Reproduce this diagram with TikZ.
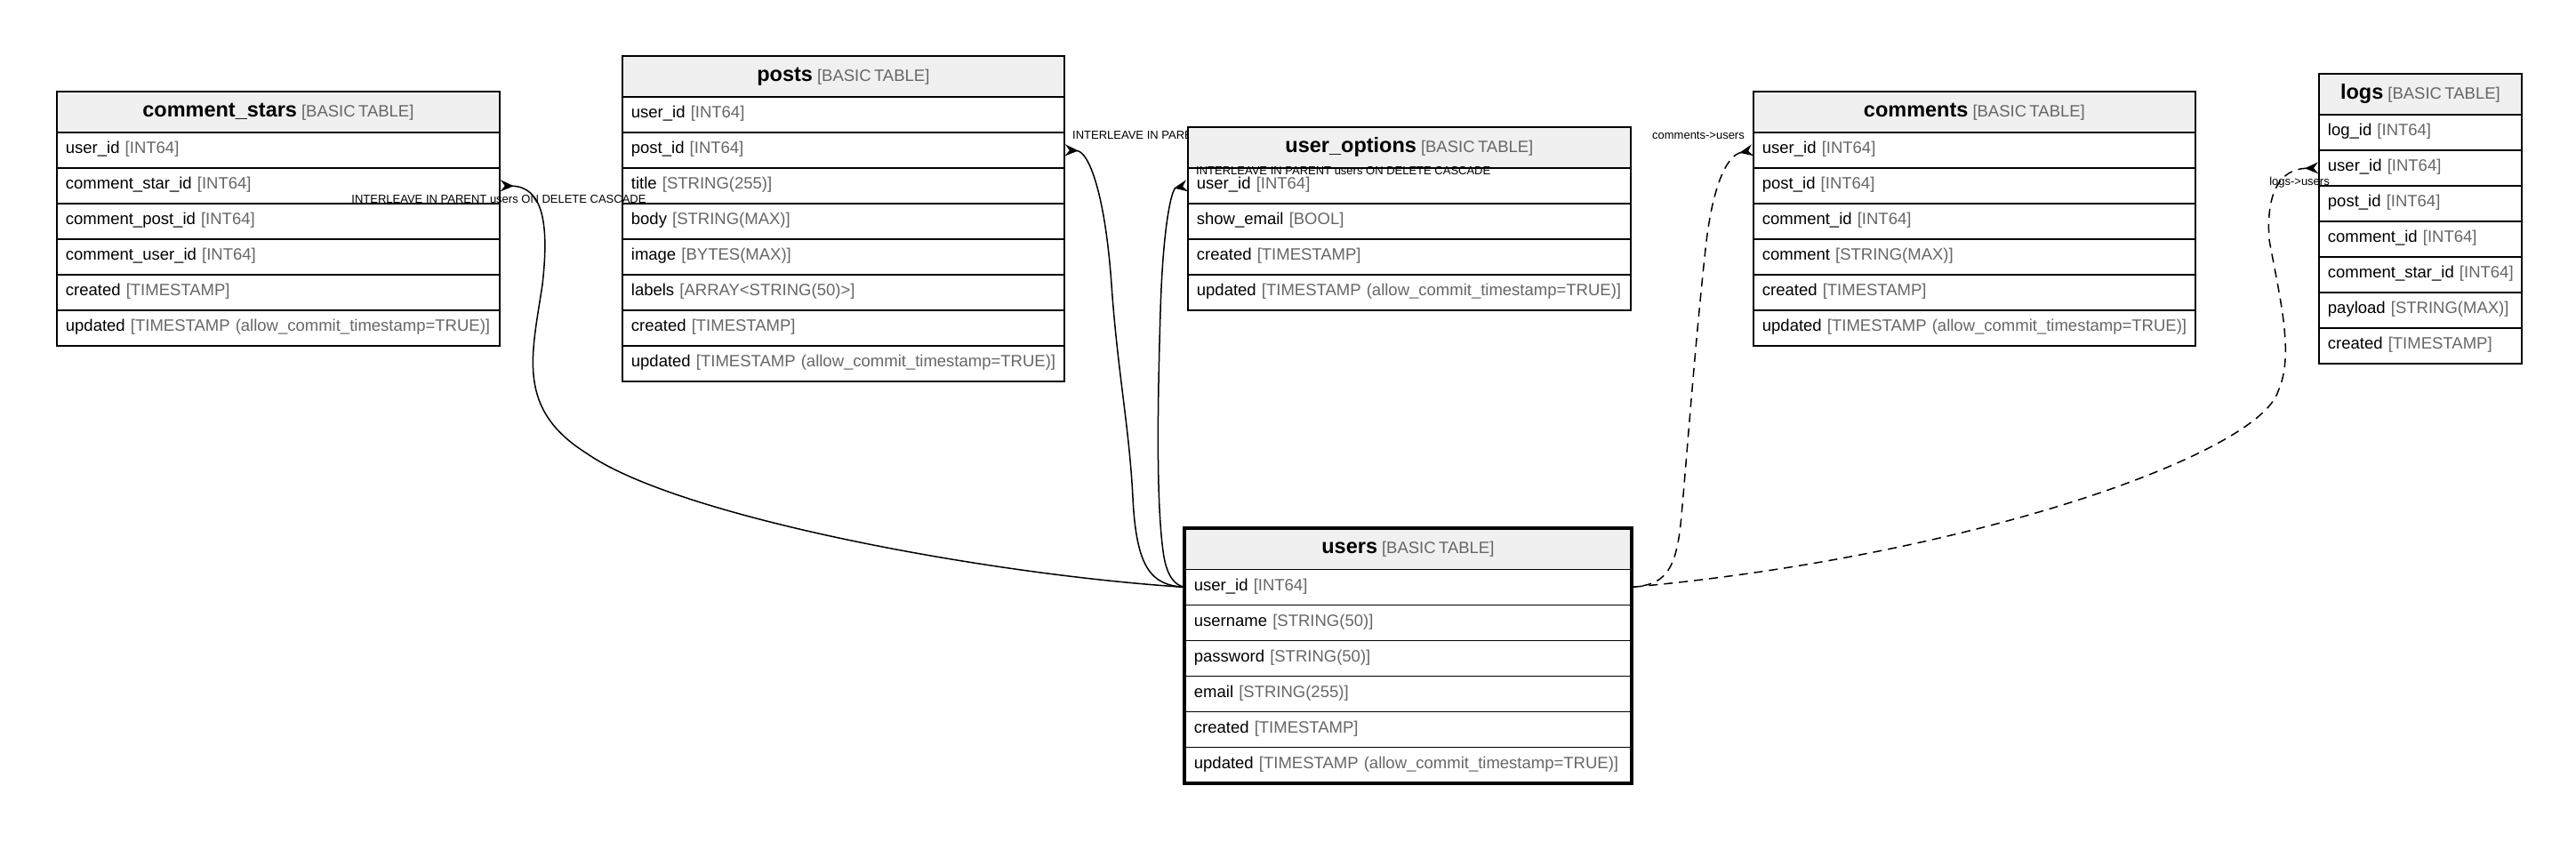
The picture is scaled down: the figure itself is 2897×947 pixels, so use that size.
\documentclass[tikz,border=0pt]{standalone}
\usepackage{fontspec}
\setmainfont{Liberation Sans}
\usetikzlibrary{arrows.meta}
\definecolor{tgray}{HTML}{666666}
\definecolor{hfill}{HTML}{F0F0F0}
\newcommand\rowfont{\fontsize{18.5pt}{22pt}\selectfont}
\newcommand\namefont{\fontsize{23.5pt}{26pt}\selectfont\bfseries}
\newcommand\lblfont{\fontsize{13pt}{15pt}\selectfont}
\tikzset{
  tbl/.style={draw=black, line width=1.8pt, anchor=north west, inner xsep=10pt, inner ysep=0pt},
  hdr/.style={tbl, fill=hfill, minimum height=45.5pt, align=center, text height=10pt, text depth=0pt},
  rowbox/.style={tbl, fill=white, minimum height=40pt, align=left, text height=8pt, text depth=0pt, font=\rowfont},
  conn/.style={line width=1.5pt, {Stealth[reversed,length=15pt,width=13pt,inset=5pt]}-},
  fk/.style={conn, dash pattern=on 10pt off 7pt},
  lbl/.style={inner sep=0pt, text height=9.3pt, text depth=0pt, font=\lblfont},
}
\newcommand\ertable[6]{%
  \pgfmathsetmacro\ertw{#4-20}%
  \node[hdr, minimum width=#4pt, text width=\ertw pt] (#1) at (#2,#3)
    {\mbox{{\namefont #5}{\rowfont\hspace{5pt}\textcolor{tgray}{[BASIC TABLE]}}}};
  \foreach \fa/\fb [count=\i] in {#6} {
    \node[rowbox, minimum width=#4pt, text width=\ertw pt] (#1-\i) at (#2,{#3+45.5+40*(\i-1)})
      {\mbox{\fa\ \textcolor{tgray}{[\fb]}}};
  }%
}
\begin{document}
\begin{tikzpicture}[x=1pt,y=-1pt]
\fill[white] (0,0) rectangle (2897,947);
\useasboundingbox (0,0) rectangle (2897,947);

\ertable{cs}{63}{102.5}{498}{comment\_stars}{user\_id/INT64, comment\_star\_id/INT64, comment\_post\_id/INT64, comment\_user\_id/INT64, created/TIMESTAMP, updated/TIMESTAMP (allow\_commit\_timestamp=TRUE)}

\ertable{ps}{699}{62.5}{497}{posts}{user\_id/INT64, post\_id/INT64, title/STRING(255), body/STRING(MAX), image/BYTES(MAX), labels/ARRAY<STRING(50)>, created/TIMESTAMP, updated/TIMESTAMP (allow\_commit\_timestamp=TRUE)}

\node[lbl, anchor=west] (l2) at (1206,151.7) {INTERLEAVE IN PARENT users ON DELETE CASCADE};

\ertable{uo}{1335}{142.5}{498}{user\_options}{user\_id/INT64, show\_email/BOOL, created/TIMESTAMP, updated/TIMESTAMP (allow\_commit\_timestamp=TRUE)}

\ertable{us}{1332}{594}{501}{users}{user\_id/INT64, username/STRING(50), password/STRING(50), email/STRING(255), created/TIMESTAMP, updated/TIMESTAMP (allow\_commit\_timestamp=TRUE)}
\draw[line width=4pt] (us.north west) rectangle (us-6.south east);

\ertable{cm}{1971}{102.5}{497}{comments}{user\_id/INT64, post\_id/INT64, comment\_id/INT64, comment/STRING(MAX), created/TIMESTAMP, updated/TIMESTAMP (allow\_commit\_timestamp=TRUE)}

\ertable{lg}{2607}{82.5}{228}{logs}{log\_id/INT64, user\_id/INT64, post\_id/INT64, comment\_id/INT64, comment\_star\_id/INT64, payload/STRING(MAX), created/TIMESTAMP}

% connectors
\draw[conn] (cs-2.east) .. controls (610,210) and (618,250) .. (610,320)
  .. controls (598,400) and (580,460) .. (660,510)
  .. controls (760,580) and (1100,645) .. (us-1.west);
\draw[conn] (ps-2.east) .. controls (1225,170) and (1243,220) .. (1250,320)
  .. controls (1257,420) and (1270,480) .. (1274,560)
  .. controls (1278,640) and (1295,658) .. (us-1.west);
\draw[conn] (uo-1.west) .. controls (1318,212) and (1308,250) .. (1305,350)
  .. controls (1302,450) and (1300,560) .. (1308,620)
  .. controls (1312,650) and (1322,658) .. (us-1.west);
\draw[fk] (cm-1.west) .. controls (1940,175) and (1925,215) .. (1918,280)
  .. controls (1905,400) and (1895,540) .. (1890,590)
  .. controls (1884,645) and (1870,658) .. (us-1.east);
\draw[fk] (lg-2.west) .. controls (2565,190) and (2548,215) .. (2552,270)
  .. controls (2565,340) and (2580,400) .. (2562,440)
  .. controls (2540,510) and (2220,625) .. (us-1.east);

% labels
\node[lbl, anchor=center] (l1) at (561,224) {INTERLEAVE IN PARENT users ON DELETE CASCADE};
\node[lbl, anchor=west] (l3) at (1345,191.7) {INTERLEAVE IN PARENT users ON DELETE CASCADE};
\node[lbl, anchor=east] (l4) at (1962,151.5) {comments->users};
\node[lbl, anchor=center] (l5) at (2586,204) {logs->users};
\end{tikzpicture}
\end{document}
